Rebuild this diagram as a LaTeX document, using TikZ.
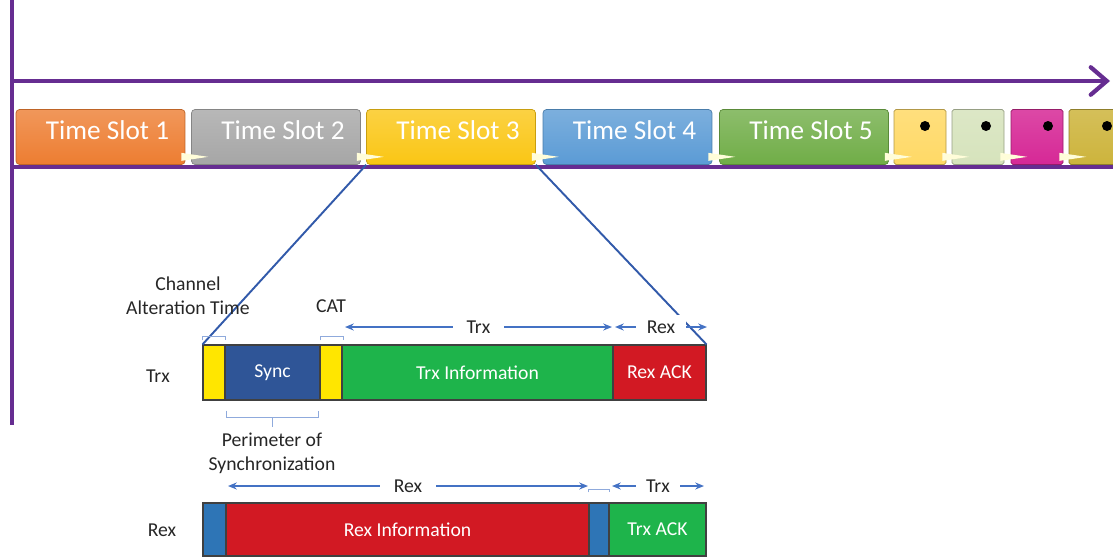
\documentclass[tikz,border=0pt]{standalone}
\usepackage{fontspec}
\setmainfont{Carlito}
\usetikzlibrary{arrows.meta}
\definecolor{axispurple}{RGB}{102,45,145}
\definecolor{zoomblue}{RGB}{50,90,170}
\definecolor{arrowblue}{RGB}{68,114,196}
\definecolor{slotorange}{RGB}{237,125,49}
\definecolor{slotgray}{RGB}{166,166,166}
\definecolor{slotyellow}{RGB}{250,198,20}
\definecolor{slotblue}{RGB}{91,155,213}
\definecolor{slotgreen}{RGB}{112,173,71}
\definecolor{miniyellow}{RGB}{255,217,102}
\definecolor{minigreen}{RGB}{214,227,188}
\definecolor{minimagenta}{RGB}{214,40,150}
\definecolor{miniolive}{RGB}{205,180,60}
\definecolor{catyellow}{RGB}{255,230,0}
\definecolor{syncblue}{RGB}{47,85,151}
\definecolor{infogreen}{RGB}{30,180,75}
\definecolor{ackred}{RGB}{210,25,35}
\definecolor{rexblue}{RGB}{46,117,182}
\tikzset{
  slot/.style={rounded corners=2pt, minimum width=3.38cm, minimum height=1.1cm, inner sep=0pt,
    draw=#1!80!black, top color=#1!80!white, bottom color=#1, text=white,
    font=\fontsize{15.5}{18}\selectfont},
  minislot/.style={rounded corners=1pt, minimum width=1.04cm, minimum height=1.1cm, inner sep=0pt,
    draw=#1!70!black, top color=#1!85!white, bottom color=#1},
  block/.style={fill=#1, draw=black!75, line width=0.6pt, minimum height=1.1cm, inner sep=0pt,
    text=white, font=\fontsize{11.2}{13}\selectfont},
  label/.style={text=black!85, font=\fontsize{11.2}{13.5}\selectfont, align=center},
  dimarrow/.style={draw=arrowblue, line width=0.9pt, {Stealth[length=5pt,width=4pt]}-{Stealth[length=5pt,width=4pt]}},
  bracket/.style={draw=arrowblue!60, line width=0.5pt}
}
\begin{document}
\begin{tikzpicture}[x=0.02cm,y=-0.02cm]
    \useasboundingbox (0,0) rectangle (1113,558);
    \coordinate (top) at (12,0);
    \coordinate (foot) at (12,425);
    \coordinate (corner) at (12,81);
    \coordinate (tip) at (1110,81);
    \coordinate (lineL) at (12,167);
    \coordinate (lineR) at (1113,167);
    \draw[axispurple, line width=2.4pt] (top) -- (foot);
    \draw[axispurple, line width=2.4pt, -{Straight Barb[length=0.32cm,width=0.55cm,line cap=round]}] (corner) -- (tip);
    \draw[axispurple, line width=1.8pt] (lineL) -- (lineR);
    \node[slot=slotorange] (s1) at (100.5,137) {\raisebox{8pt}{\hspace{8pt}Time Slot 1}};
    \node[slot=slotgray] (s2) at (276,137) {\raisebox{8pt}{\hspace{8pt}Time Slot 2}};
    \node[slot=slotyellow] (s3) at (451,137) {\raisebox{8pt}{\hspace{8pt}Time Slot 3}};
    \node[slot=slotblue] (s4) at (627.5,137) {\raisebox{8pt}{\hspace{8pt}Time Slot 4}};
    \node[slot=slotgreen] (s5) at (804,137) {\raisebox{8pt}{\hspace{8pt}Time Slot 5}};
    \node[minislot=miniyellow] (m1) at (920,137) {};
    \node[minislot=minigreen] (m2) at (978,137) {};
    \node[minislot=minimagenta] (m3) at (1037,137) {};
    \node[minislot=miniolive] (m4) at (1095,137) {};
    \foreach \m/\dx in {m1/5,m2/8,m3/11,m4/12}
      \fill[black] ([shift={(\dx,-11)}]\m.center) circle (5);
    \foreach \s in {s1,s2,s3,s4,s5,m1,m2,m3}
      \fill[white!85!yellow] ([shift={(-4,-12)}]\s.south east) -- ([shift={(-4,-4)}]\s.south east) -- ([shift={(23,-8)}]\s.south east) -- cycle;
    \node[block=catyellow, minimum width=0.44cm] (tcat1) at (214,372.5) {};
    \node[block=syncblue, minimum width=1.9cm] (tsync) at (272.5,372.5) {Sync};
    \node[block=catyellow, minimum width=0.44cm] (tcat2) at (331,372.5) {};
    \node[block=infogreen, minimum width=5.42cm] (tinfo) at (477.5,372.5) {Trx Information};
    \node[block=ackred, minimum width=1.86cm] (tack) at (659.5,372.5) {Rex ACK};
    \node[block=rexblue, minimum width=0.46cm, minimum height=1.06cm] (rsync1) at (214.5,529.5) {};
    \node[block=ackred, minimum width=7.26cm, minimum height=1.06cm] (rinfo) at (407.5,529.5) {Rex Information};
    \node[block=rexblue, minimum width=0.4cm, minimum height=1.06cm] (rsync2) at (599,529.5) {};
    \node[block=infogreen, minimum width=1.94cm, minimum height=1.06cm] (rack) at (657.5,529.5) {Trx ACK};
    \draw[zoomblue, line width=1.1pt] (s3.south west) -- (tcat1.north west);
    \draw[zoomblue, line width=1.1pt] (s3.south east) -- (tack.north east);
    \node[label] (trxname) at (158,376) {Trx};
    \node[label] (rexname) at (162,530) {Rex};
    \node[label] (cat1) at (188,296) {Channel\\Alteration Time};
    \node[label] (cat2) at (331,306) {CAT};
    \node[label] (perim) at (272,453) {Perimeter of\\Synchronization};
    \draw[bracket] ([shift={(0,-4)}]tcat1.north west) -- ([shift={(0,-8)}]tcat1.north west) -- ([shift={(0,-8)}]tcat1.north east) -- ([shift={(0,-4)}]tcat1.north east);
    \draw[bracket] ([shift={(1,-4)}]tcat2.north west) -- ([shift={(1,-8)}]tcat2.north west) -- ([shift={(1,-8)}]tcat2.north east) -- ([shift={(1,-4)}]tcat2.north east);
    \draw[bracket] ([shift={(2,10)}]tsync.south west) -- ([shift={(2,17)}]tsync.south west) -- ([shift={(-2,17)}]tsync.south east) -- ([shift={(-2,10)}]tsync.south east);
    \draw[bracket] ([yshift=-0.34cm]tsync.south) -- ([yshift=-0.52cm]tsync.south);
    \draw[bracket] ([shift={(0,-10)}]rsync2.north west) -- ([shift={(0,-13)}]rsync2.north west) -- ([shift={(0,-13)}]rsync2.north east) -- ([shift={(0,-10)}]rsync2.north east);
    \coordinate (trxL) at (345,327);
    \coordinate (trxR) at (612,327);
    \coordinate (rexL) at (615,327);
    \coordinate (rexR) at (707,327);
    \coordinate (rexL2) at (228,486);
    \coordinate (rexR2) at (588,486);
    \coordinate (trxL2) at (612,486);
    \coordinate (trxR2) at (704,486);
    \draw[dimarrow] (trxL) -- node[label, fill=white, inner xsep=8pt] {Trx} (trxR);
    \draw[dimarrow] (rexL) -- node[label, fill=white, inner xsep=6pt] {Rex} (rexR);
    \draw[dimarrow] (rexL2) -- node[label, fill=white, inner xsep=8pt] {Rex} (rexR2);
    \draw[dimarrow] (trxL2) -- node[label, fill=white, inner xsep=6pt] {Trx} (trxR2);
\end{tikzpicture}
\end{document}
